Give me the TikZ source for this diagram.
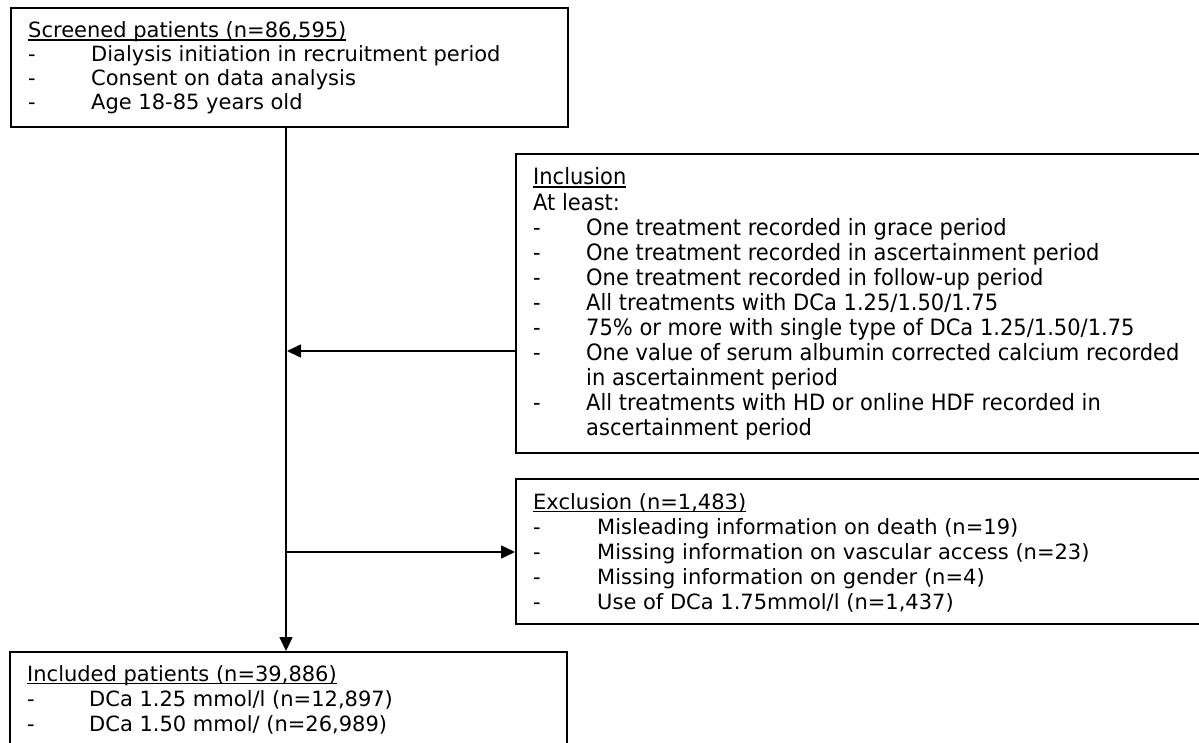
\documentclass[tikz,border=0pt]{standalone}
\usepackage{fontspec}
\setmainfont{DejaVu Sans}
\newfontfamily\tahfont[FakeStretch=0.934]{DejaVu Sans}
\usetikzlibrary{arrows.meta}
\newcommand{\ulttl}[1]{\leavevmode\setbox0\hbox{#1}\rlap{\rule[-2.8pt]{\wd0}{1.3pt}}\box0}
\newcommand{\itm}[2]{\leavevmode\makebox[#1][l]{-}#2}
\begin{document}
\begin{tikzpicture}[x=1pt,y=-1pt,
  box/.style={draw, line width=1.6pt, inner sep=0pt, anchor=north west},
  txt/.style={inner sep=0pt, anchor=base west},
  conn/.style={line width=1.6pt, -{Triangle[length=14pt,width=13pt]}}]
\useasboundingbox (0,0) rectangle (1199,743);
\clip (0,0) rectangle (1199,743);
\fill[white] (0,0) rectangle (1199,743);
% boxes
\node[box, minimum width=557pt, minimum height=119pt] (scr) at (10,7) {};
\node[box, minimum width=700pt, minimum height=299pt] (inc) at (515,153) {};
\node[box, minimum width=700pt, minimum height=145pt] (exc) at (515,478) {};
\node[box, minimum width=557pt, minimum height=120pt] (bot) at (9,651) {};
% texts
\node[txt] (scrT) at (28,38) {\parbox[t]{520pt}{\fontsize{21}{24}\selectfont
\ulttl{Screened patients (n=86,595)}\\
\itm{63pt}{Dialysis initiation in recruitment period}\\
\itm{63pt}{Consent on data analysis}\\
\itm{63pt}{Age 18-85 years old}}};
\node[txt] (incT) at (533,185) {\parbox[t]{660pt}{\tahfont\fontsize{22.5}{25.1}\selectfont
\ulttl{Inclusion}\\
At least:\\
\itm{53pt}{One treatment recorded in grace period}\\
\itm{53pt}{One treatment recorded in ascertainment period}\\
\itm{53pt}{One treatment recorded in follow-up period}\\
\itm{53pt}{All treatments with DCa 1.25/1.50/1.75}\\
\itm{53pt}{75\% or more with single type of DCa 1.25/1.50/1.75}\\
\itm{53pt}{One value of serum albumin corrected calcium recorded}\\
\hspace*{53pt}in ascertainment period\\
\itm{53pt}{All treatments with HD or online HDF recorded in}\\
\hspace*{53pt}ascertainment period}};
\node[txt] (excT) at (533,509) {\parbox[t]{660pt}{\fontsize{21}{25}\selectfont
\ulttl{Exclusion (n=1,483)}\\
\itm{64pt}{Misleading information on death (n=19)}\\
\itm{64pt}{Missing information on vascular access (n=23)}\\
\itm{64pt}{Missing information on gender (n=4)}\\
\itm{64pt}{Use of DCa 1.75mmol/l (n=1,437)}}};
\node[txt] (botT) at (27,681) {\parbox[t]{530pt}{\fontsize{21}{25}\selectfont
\ulttl{Included patients (n=39,886)}\\
\itm{62pt}{DCa 1.25 mmol/l (n=12,897)}\\
\itm{62pt}{DCa 1.50 mmol/ (n=26,989)}}};
% connectors
\coordinate (vx) at (286,0);
\coordinate (j1) at (287,351);
\coordinate (j2) at (286,552);
\draw[conn] (scr.south -| vx) -- (bot.north -| vx);
\draw[conn] (j1 -| inc.west) -- (j1);
\draw[conn] (j2) -- (j2 -| exc.west);
\end{tikzpicture}
\end{document}
